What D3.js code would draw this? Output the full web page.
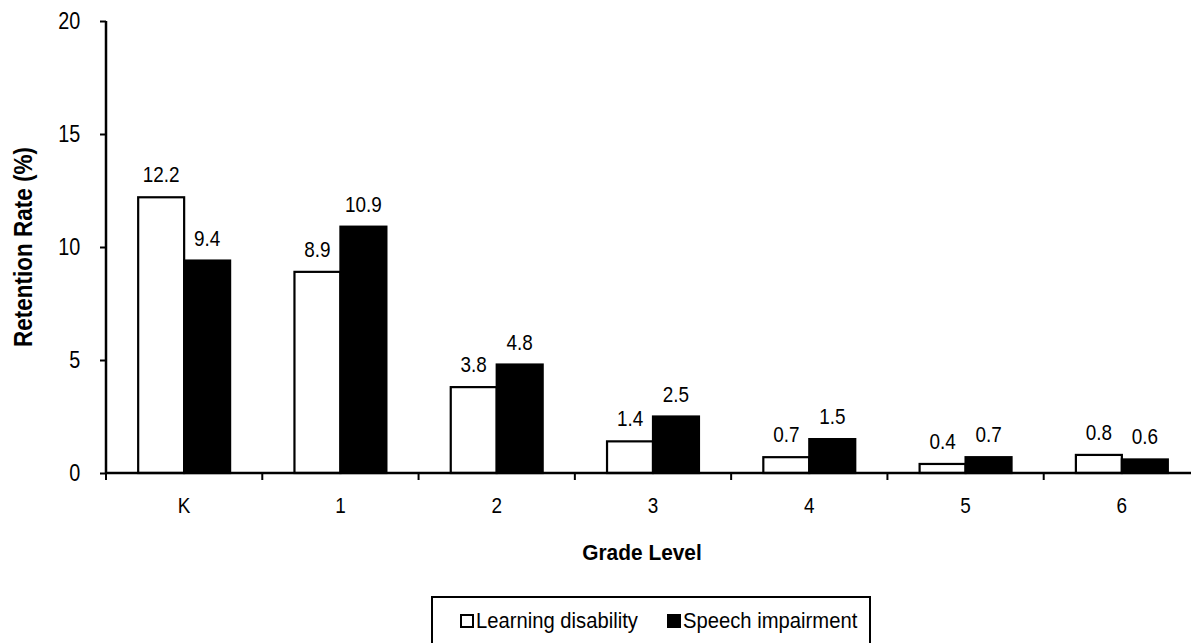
<!DOCTYPE html>
<html>
<head>
<meta charset="utf-8">
<script src="https://cdn.jsdelivr.net/npm/d3@7"></script>
<style>
  body { margin: 0; background: #fff; }
  text { font-family: "Liberation Sans", Arial, sans-serif; }
</style>
</head>
<body>
<svg id="chart"></svg>
<script>
const width = 1191;
const height = 643;

// data
const grades = ["K", "1", "2", "3", "4", "5", "6"];
const learning = [12.2, 8.9, 3.8, 1.4, 0.7, 0.4, 0.8];
const speech = [9.4, 10.9, 4.8, 2.5, 1.5, 0.7, 0.6];
const seriesNames = ["Learning disability", "Speech impairment"];
const yTicks = [0, 5, 10, 15, 20];

const narrow = 0.86; // the original font is condensed

const svg = d3.select('#chart')
  .attr('width', width)
  .attr('height', height);

svg.append('rect')
  .attr('width', width)
  .attr('height', height)
  .attr('fill', '#fff');

const x = d3.scaleBand()
  .domain(grades)
  .range([106, 1200]);

const sub = d3.scaleBand()
  .domain([0, 1])
  .range([0, x.bandwidth()])
  .paddingOuter(0.7)
  .paddingInner(0);

const y = d3.scaleLinear()
  .domain([0, 20])
  .range([473, 21]);

const rows = grades.map((g, i) => ({ g, vals: [learning[i], speech[i]] }));

// bars
const groups = svg.selectAll('.grp')
  .data(rows)
  .join('g')
  .attr('class', 'grp')
  .attr('transform', d => `translate(${x(d.g)},0)`);

groups.selectAll('rect')
  .data(d => d.vals.map((v, k) => ({ v, k })))
  .join('rect')
  .attr('x', d => sub(d.k))
  .attr('width', sub.bandwidth())
  .attr('y', d => y(d.v))
  .attr('height', d => y(0) - y(d.v))
  .attr('fill', d => d.k === 0 ? '#fff' : '#000')
  .attr('stroke', '#000')
  .attr('stroke-width', 2.2);

// value labels
groups.selectAll('text')
  .data(d => d.vals.map((v, k) => ({ v, k })))
  .join('text')
  .attr('transform', d => `translate(${sub(d.k) + sub.bandwidth() / 2},${y(d.v) - 15}) scale(${narrow},1)`)
  .attr('text-anchor', 'middle')
  .attr('font-size', '22px')
  .attr('fill', '#000')
  .text(d => d.v.toFixed(1));

// y axis
const yAxis = svg.append('g')
  .attr('transform', 'translate(106,0)')
  .call(d3.axisLeft(y).tickValues(yTicks).tickSize(6).tickPadding(24).tickFormat(d3.format('d')));
yAxis.select('.domain').attr('stroke-width', 2.5).attr('d', `M0,${y(20)}V${y(0)}`);
yAxis.selectAll('.tick line').attr('stroke-width', 2);
yAxis.selectAll('.tick text')
  .attr('font-size', '23px')
  .attr('fill', '#000')
  .attr('transform', `scale(${narrow},1)`);

// x axis
const xAxis = svg.append('g')
  .attr('transform', `translate(0,${y(0)})`)
  .call(d3.axisBottom(x).tickSize(0).tickPadding(24));
xAxis.select('.domain').attr('stroke-width', 2.5).attr('d', `M106,0H1200`);
xAxis.selectAll('.tick text')
  .attr('font-size', '22px')
  .attr('fill', '#000')
  .attr('transform', `scale(${narrow},1)`);

// tick marks between categories
const bounds = grades.map(g => x(g));
svg.append('g')
  .selectAll('line')
  .data(bounds)
  .join('line')
  .attr('x1', d => d).attr('x2', d => d)
  .attr('y1', y(0)).attr('y2', y(0) + 7)
  .attr('stroke', '#000')
  .attr('stroke-width', 2);

// axis titles
svg.append('text')
  .attr('transform', `translate(32,${(y(0) + y(20)) / 2}) rotate(-90) scale(0.9,1)`)
  .attr('text-anchor', 'middle')
  .attr('font-size', '25px')
  .attr('font-weight', 'bold')
  .text('Retention Rate (%)');

svg.append('text')
  .attr('transform', `translate(642,560) scale(0.95,1)`)
  .attr('text-anchor', 'middle')
  .attr('font-size', '22px')
  .attr('font-weight', 'bold')
  .text('Grade Level');

// legend
const legend = svg.append('g');
legend.append('rect')
  .attr('x', 432).attr('y', 597)
  .attr('width', 438).attr('height', 60)
  .attr('fill', 'none')
  .attr('stroke', '#000')
  .attr('stroke-width', 2);

const legX = [461, 668];
seriesNames.forEach((name, k) => {
  legend.append('rect')
    .attr('x', legX[k]).attr('y', 615)
    .attr('width', 12).attr('height', 12)
    .attr('fill', k === 0 ? '#fff' : '#000')
    .attr('stroke', '#000')
    .attr('stroke-width', 2);
  legend.append('text')
    .attr('transform', `translate(${legX[k] + 15},628) scale(0.92,1)`)
    .attr('font-size', '22px')
    .text(name);
});
</script>
</body>
</html>
